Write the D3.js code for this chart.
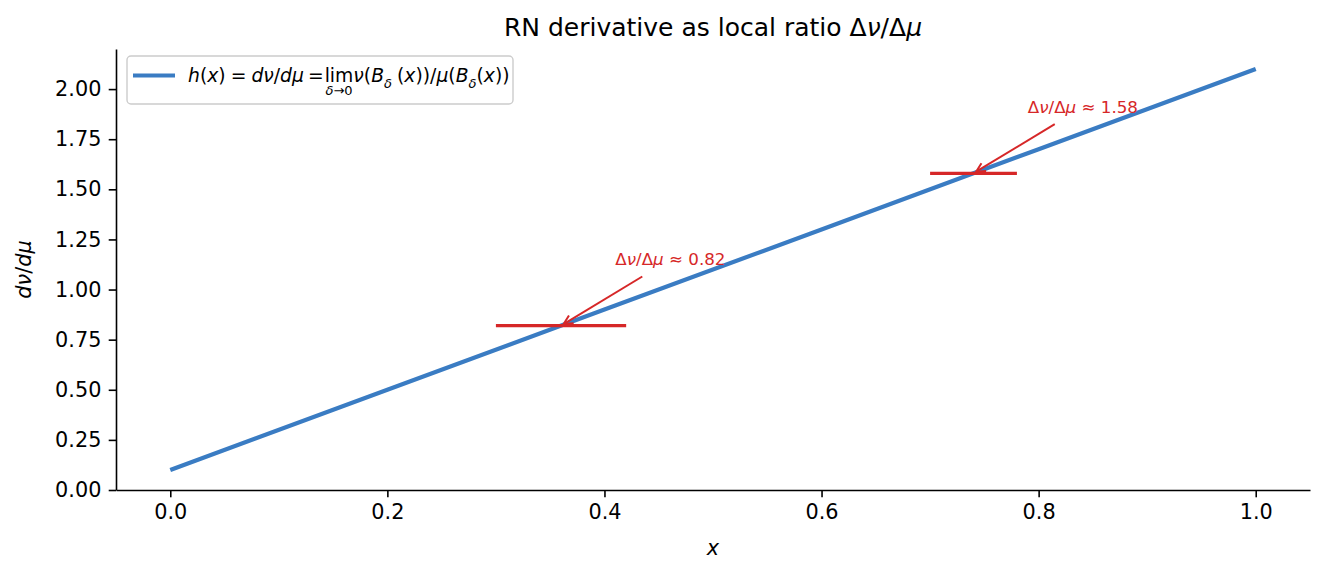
<!DOCTYPE html>
<html>
<head>
<meta charset="utf-8">
<script src="https://cdn.jsdelivr.net/npm/d3@7"></script>
<style>
  body { margin: 0; background: #fff; }
  text { font-family: "DejaVu Sans", sans-serif; }
</style>
</head>
<body>
<div id="chart"></div>
<script>
// data
const xVals = [0, 0.2, 0.4, 0.6, 0.8, 1.0];
const hVals = [0.1, 0.5, 0.9, 1.3, 1.7, 2.1];

// local ratio windows
const segLo = [0.30, 0.70];
const segHi = [0.42, 0.78];
const tipX = [0.36, 0.74];
const ratios = [0.82, 1.58];
const noteX = [0.41, 0.79];
const noteY = [1.12, 1.88];

const xTicks = [0, 0.2, 0.4, 0.6, 0.8, 1.0];
const yTicks = [0, 0.25, 0.5, 0.75, 1.0, 1.25, 1.5, 1.75, 2.0];

const BLUE = "#3a7cc3";
const RED = "#d62728";

const margin = { top: 49, right: 16, bottom: 85, left: 116 },
  W = 1326, H = 575,
  width = W - margin.left - margin.right,
  height = H - margin.top - margin.bottom;

const root = d3.select("#chart").append("svg")
  .attr("width", W).attr("height", H);

const svg = root.append("g")
  .attr("transform", `translate(${margin.left},${margin.top})`);

const x = d3.scaleLinear().domain([-0.05, 1.05]).range([0, width]);
const y = d3.scaleLinear().domain([0, 2.2]).range([height, 0]);

// helper: text made of pieces [str, italic, dy, size, dx]
function mathText(sel, pieces) {
  pieces.forEach(p => {
    const t = sel.append("tspan").text(p[0]);
    if (p[1]) t.attr("font-style", "italic");
    if (p[2]) t.attr("dy", p[2]);
    if (p[3]) t.attr("font-size", p[3]);
    if (p[4]) t.attr("dx", p[4]);
  });
  return sel;
}

// axes
const xAxis = svg.append("g")
  .attr("transform", `translate(0,${height})`)
  .call(d3.axisBottom(x).tickValues(xTicks).tickFormat(d3.format(".1f"))
    .tickSize(7.3).tickPadding(7.3).tickSizeOuter(0));
const yAxis = svg.append("g")
  .call(d3.axisLeft(y).tickValues(yTicks).tickFormat(d3.format(".2f"))
    .tickSize(7.3).tickPadding(7.3).tickSizeOuter(0));

[xAxis, yAxis].forEach(a => {
  a.selectAll("path.domain").attr("stroke", "#000").attr("stroke-width", 1.6);
  a.selectAll(".tick line").attr("stroke", "#000").attr("stroke-width", 1.6);
  a.selectAll(".tick text").attr("fill", "#000")
    .attr("font-size", "20.8px").attr("font-family", "DejaVu Sans");
});

// main line
const line = d3.line().x((d, i) => x(xVals[i])).y(d => y(d));
svg.append("path")
  .datum(hVals)
  .attr("fill", "none")
  .attr("stroke", BLUE)
  .attr("stroke-width", 4.2)
  .attr("d", line);

// red local-ratio segments
svg.selectAll(".seg")
  .data(ratios)
  .enter()
  .append("line")
  .attr("class", "seg")
  .attr("x1", (d, i) => x(segLo[i]))
  .attr("x2", (d, i) => x(segHi[i]))
  .attr("y1", d => y(d))
  .attr("y2", d => y(d))
  .attr("stroke", RED)
  .attr("stroke-width", 3.2);

// annotations
ratios.forEach((r, i) => {
  const tx = x(noteX[i]), ty = y(noteY[i]);
  const t = svg.append("text")
    .attr("x", tx).attr("y", ty)
    .attr("font-size", "16.7px")
    .attr("fill", RED);
  mathText(t, [["Δ"], ["ν", true], ["/"], ["Δ"], ["μ", true], [" ≈ " + r.toFixed(2)]]);

  const bb = t.node().getBBox();
  const cx = bb.x + bb.width / 2, cy = bb.y + bb.height / 2;
  const px = x(tipX[i]), py = y(r);
  const dx = px - cx, dy = py - cy;
  const len = Math.hypot(dx, dy);
  const ux = dx / len, uy = dy / len;
  // leave the text box (with a bit of padding)
  const tEdge = (bb.height / 2 + 7) / uy;
  const sx = cx + ux * tEdge, sy = cy + uy * tEdge;
  const ex = px - ux * 3, ey = py - uy * 3;

  svg.append("line")
    .attr("x1", sx).attr("y1", sy).attr("x2", ex).attr("y2", ey)
    .attr("stroke", RED).attr("stroke-width", 2);

  const hl = 9, hw = 4.5;
  const bx = ex - ux * hl, by = ey - uy * hl;
  svg.append("path")
    .attr("d", `M${bx - uy * hw},${by + ux * hw}L${ex},${ey}L${bx + uy * hw},${by - ux * hw}`)
    .attr("fill", "none")
    .attr("stroke", RED).attr("stroke-width", 2);
});

// axis labels
const xl = root.append("text")
  .attr("x", margin.left + width / 2).attr("y", 555)
  .attr("text-anchor", "middle")
  .attr("font-size", "20.8px");
mathText(xl, [["x", true]]);

const yl = root.append("text")
  .attr("transform", `translate(31,${margin.top + height / 2}) rotate(-90)`)
  .attr("text-anchor", "middle")
  .attr("font-size", "20.8px");
mathText(yl, [["d", true], ["ν", true], ["/"], ["d", true], ["μ", true]]);

// title
const title = root.append("text")
  .attr("x", margin.left + width / 2).attr("y", 36)
  .attr("text-anchor", "middle")
  .attr("font-size", "25px");
mathText(title, [["RN derivative as local ratio Δ"], ["ν", true], ["/Δ"], ["μ", true]]);

// legend
const lg = root.append("g");
lg.append("rect")
  .attr("x", 127).attr("y", 56)
  .attr("width", 386).attr("height", 48)
  .attr("rx", 4)
  .attr("fill", "#fff").attr("fill-opacity", 0.8)
  .attr("stroke", "#cccccc").attr("stroke-width", 1.4);
lg.append("line")
  .attr("x1", 133).attr("x2", 175)
  .attr("y1", 75.5).attr("y2", 75.5)
  .attr("stroke", BLUE).attr("stroke-width", 4.2);

const LS = 18.75, SUB = 13;
const lt = lg.append("text")
  .attr("x", 188).attr("y", 82)
  .attr("font-size", LS + "px");
mathText(lt, [
  ["h", true], ["("], ["x", true], [")"], ["=", false, 0, 0, 5],
  ["d", true, 0, 0, 5], ["ν", true], ["/"], ["d", true], ["μ", true], ["=", false, 0, 0, 4]
]);
const limSpan = lt.append("tspan").text("lim").attr("dx", 1);
mathText(lt, [
  ["ν", true], ["("], ["B", true], ["δ", true, 6, SUB], ["(", false, -6, LS, 5],
  ["x", true], ["))/"], ["μ", true], ["("], ["B", true], ["δ", true, 6, SUB],
  ["(", false, -6, LS], ["x", true], ["))"]
]);
const limX = limSpan.node().getStartPositionOfChar(0).x;
const limW = limSpan.node().getComputedTextLength();
lg.append("text")
  .attr("x", limX + limW / 2).attr("y", 95)
  .attr("text-anchor", "middle")
  .attr("font-size", SUB + "px")
  .call(s => mathText(s, [["δ", true], ["→0"]]));
</script>
</body>
</html>
